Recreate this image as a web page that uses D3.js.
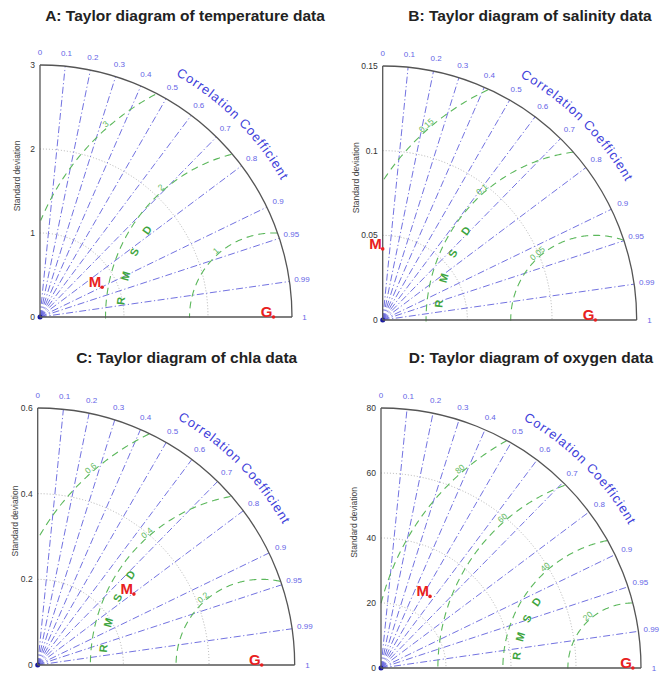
<!DOCTYPE html>
<html>
<head>
<meta charset="utf-8">
<script src="https://cdn.jsdelivr.net/npm/d3@7"></script>
<style>
  body { margin: 0; background: #fff; }
  svg { font-family: "Liberation Sans", Arial, sans-serif; }
</style>
</head>
<body>
<svg id="chart" width="662" height="675"></svg>
<script>
// Quatre diagrammes de Taylor (température, salinité, chla, oxygène)

const titles = ["A: Taylor diagram of temperature data", "B: Taylor diagram of salinity data",
                "C: Taylor diagram of chla data", "D: Taylor diagram of oxygen data"];
const sdMax = [3, 0.15, 0.6, 80];
const sdTicks = [[0, 1, 2, 3], [0, 0.05, 0.1, 0.15], [0, 0.2, 0.4, 0.6], [0, 20, 40, 60, 80]];
const rmsdLevels = [[1, 2, 3], [0.05, 0.1, 0.15], [0.2, 0.4, 0.6], [20, 40, 60, 80]];
const refSd = [2.78, 0.1256, 0.523, 77.5];      // point G
const modelSd = [0.82, 0.042, 0.279, 26.7];     // point M
const modelCor = [0.902, 0, 0.805, 0.565];
const rmsdTextR = [1.83, 0.093, 0.372, 36];
const corTicks = [0, 0.1, 0.2, 0.3, 0.4, 0.5, 0.6, 0.7, 0.8, 0.9, 0.95, 0.99, 1];
const corLines = [0.1, 0.2, 0.3, 0.4, 0.5, 0.6, 0.7, 0.8, 0.9, 0.95, 0.99];

const svg = d3.select("#chart");

// position de chaque panneau: origine et rayon en pixels
const panels = [
    {ox: 40, oy: 317, R: 252, tx: 185, ty: 21},
    {ox: 382.7, oy: 320, R: 254, tx: 530, ty: 21},
    {ox: 37.7, oy: 665, R: 257, tx: 186.7, ty: 363},
    {ox: 381, oy: 668, R: 260, tx: 531, ty: 363}
];

const blue = "#6262dc";
const green = "#5cb85c";

panels.forEach((p, i) => {
    // Titre
    svg.append("text")
        .attr("x", p.tx).attr("y", p.ty)
        .attr("text-anchor", "middle")
        .attr("font-size", "15.5px")
        .attr("font-weight", "bold")
        .attr("fill", "#222")
        .text(titles[i]);

    const g = svg.append("g").attr("transform", `translate(${p.ox},${p.oy})`);
    const r = d3.scaleLinear().domain([0, sdMax[i]]).range([0, p.R]);
    const px = (sd, cor) => r(sd * cor);
    const py = (sd, cor) => -r(sd * Math.sqrt(Math.max(0, 1 - cor * cor)));

    // Arcs pointillés gris des écarts-types
    sdTicks[i].filter(v => v > 0 && v < sdMax[i]).forEach(v => {
        const path = d3.path();
        path.arc(0, 0, r(v), -Math.PI / 2, 0);
        g.append("path").attr("d", path.toString())
            .attr("fill", "none").attr("stroke", "#aaa")
            .attr("stroke-width", 0.9).attr("stroke-dasharray", "1,2");
    });

    // Lignes de corrélation
    corLines.forEach(c => {
        g.append("line")
            .attr("x1", 0).attr("y1", 0)
            .attr("x2", px(sdMax[i], c)).attr("y2", py(sdMax[i], c))
            .attr("stroke", blue).attr("stroke-width", 0.9)
            .attr("stroke-dasharray", "7,2.5,1.2,2.5");
    });
    g.append("circle").attr("r", 2.5).attr("fill", "#1a1aa0");

    // Cercles RMSD centrés sur G
    const line = d3.line().defined(d => d.ok).x(d => r(d.x)).y(d => -r(d.y));
    rmsdLevels[i].forEach(lv => {
        const pts = d3.range(0, 181, 0.5).map(a => {
            const t = a * Math.PI / 180;
            const x = refSd[i] + lv * Math.cos(t), y = lv * Math.sin(t);
            return {x, y, ok: x >= 0 && Math.hypot(x, y) <= sdMax[i]};
        });
        g.append("path").attr("d", line(pts))
            .attr("fill", "none").attr("stroke", green)
            .attr("stroke-width", 1.1).attr("stroke-dasharray", "7,5");

        const t = 131 * Math.PI / 180;
        const lx = refSd[i] + lv * Math.cos(t), ly = lv * Math.sin(t);
        g.append("text")
            .attr("transform", `translate(${r(lx)},${-r(ly)}) rotate(${90 - 131})`)
            .attr("text-anchor", "middle").attr("dy", "-0.1em")
            .attr("font-size", "8.5px").attr("fill", green)
            .text(String(lv));
    });

    // Lettres "RMSD"
    ["R", "M", "S", "D"].forEach((ch, k) => {
        const a = [174, 164.5, 155, 145.5][k];
        const t = a * Math.PI / 180;
        const lx = refSd[i] + rmsdTextR[i] * Math.cos(t), ly = rmsdTextR[i] * Math.sin(t);
        g.append("text")
            .attr("transform", `translate(${r(lx)},${-r(ly)}) rotate(${90 - a})`)
            .attr("text-anchor", "middle").attr("dominant-baseline", "central")
            .attr("font-size", "11px").attr("font-weight", "bold").attr("fill", "#3ea53e")
            .text(ch);
    });

    // Axes et arc extérieur
    const outer = d3.path();
    outer.arc(0, 0, p.R, -Math.PI / 2, 0);
    g.append("path").attr("d", outer.toString())
        .attr("fill", "none").attr("stroke", "#555").attr("stroke-width", 1.3);
    g.append("line").attr("x1", 0).attr("y1", 0).attr("x2", 0).attr("y2", -p.R)
        .attr("stroke", "#555").attr("stroke-width", 1.3);
    g.append("line").attr("x1", 0).attr("y1", 0).attr("x2", p.R).attr("y2", 0)
        .attr("stroke", "#555").attr("stroke-width", 1.3);

    // Étiquettes de l'axe des écarts-types
    sdTicks[i].forEach(v => {
        g.append("text")
            .attr("x", -5).attr("y", -r(v))
            .attr("text-anchor", "end").attr("dominant-baseline", "central")
            .attr("font-size", "8.5px").attr("fill", "#333")
            .text(String(v));
    });
    g.append("text")
        .attr("transform", `translate(${i % 2 ? -24 : -20},${-0.56 * p.R}) rotate(-90)`)
        .attr("text-anchor", "middle")
        .attr("font-size", "8.5px").attr("fill", "#444")
        .text("Standard deviation");

    // Étiquettes de corrélation
    corTicks.forEach(c => {
        g.append("text")
            .attr("x", px(sdMax[i] * 1.05, c)).attr("y", py(sdMax[i] * 1.05, c))
            .attr("text-anchor", "middle").attr("dominant-baseline", "central")
            .attr("font-size", "8px").attr("fill", "#6464e6")
            .text(String(c));
    });

    // Titre courbé "Correlation Coefficient"
    const rr = p.R * 1.1;
    const a0 = 78 * Math.PI / 180, a1 = 12 * Math.PI / 180;
    g.append("path").attr("id", `cc${i}`)
        .attr("d", `M${rr * Math.cos(a0)},${-rr * Math.sin(a0)} A${rr},${rr} 0 0 1 ${rr * Math.cos(a1)},${-rr * Math.sin(a1)}`)
        .attr("fill", "none");
    g.append("text")
        .attr("font-size", "13px").attr("fill", "#4040da").attr("letter-spacing", "1px")
        .append("textPath")
        .attr("href", `#cc${i}`).attr("startOffset", "50%").attr("text-anchor", "middle")
        .text("Correlation Coefficient");

    // Points G et M
    [["G", refSd[i], 1], ["M", modelSd[i], modelCor[i]]].forEach(([lab, sd, c]) => {
        const x = px(sd, c), y = py(sd, c);
        g.append("circle").attr("cx", x).attr("cy", y).attr("r", 1.8).attr("fill", "#e82020");
        g.append("text")
            .attr("x", x - 1).attr("y", y)
            .attr("text-anchor", "end")
            .attr("font-size", "15px").attr("font-weight", "bold").attr("fill", "#e82020")
            .text(lab);
    });
});
</script>
</body>
</html>
